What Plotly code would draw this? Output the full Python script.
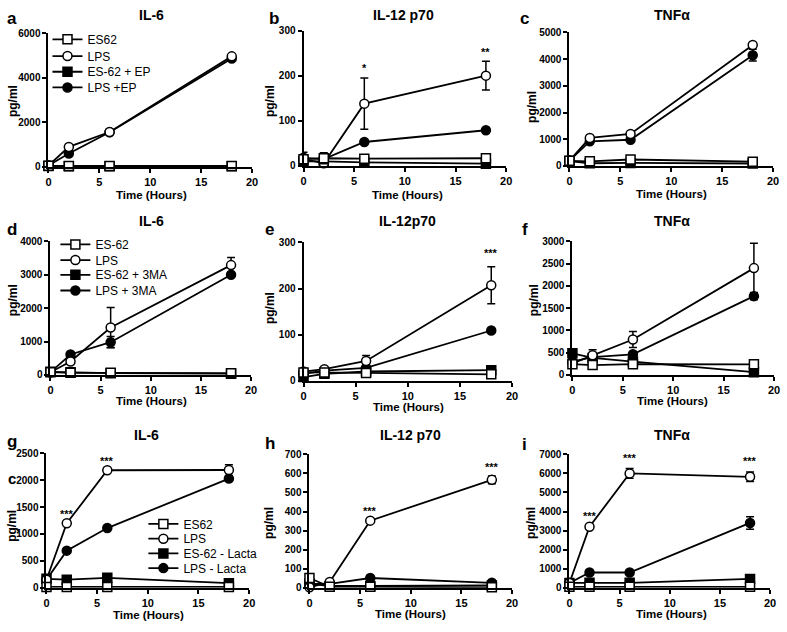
import plotly.graph_objects as go

W, H = 787, 632
FONT = "Liberation Sans, Arial, Helvetica, sans-serif"

hours = [0, 2, 6, 18]
x_ticks = [0, 5, 10, 15, 20]

# ---------- row 1 (EP) ----------
names_row1 = ["ES62", "LPS", "ES-62 + EP", "LPS +EP"]
# panel a  IL-6
a_es62 = [50, 40, 40, 40]
a_lps = [60, 900, 1570, 4970]
a_es62x = [40, 30, 30, 30]
a_lpsx = [60, 600, 1560, 4870]
a_lps_err = [0, 0, 0, 0]
a_lpsx_err = [0, 0, 0, 0]
# panel b  IL-12 p70
b_es62 = [15, 17, 16, 17]
b_es62_err = [0, 12, 0, 0]
b_lps = [15, 6, 138, 200]
b_lps_err = [0, 0, 57, 32]
b_es62x = [10, 10, 8, 5]
b_lpsx = [18, 15, 53, 79]
b_lpsx_err = [12, 0, 0, 0]
b_stars = ["", "", "*", "**"]
# panel c  TNFa
c_es62 = [190, 170, 240, 160]
c_lps = [200, 1050, 1200, 4530]
c_es62x = [180, 100, 110, 90]
c_lpsx = [200, 920, 980, 4150]
c_lpsx_err = [0, 0, 0, 220]

# ---------- row 2 (3MA) ----------
names_row2 = ["ES-62", "LPS", "ES-62 + 3MA", "LPS + 3MA"]
d_es62 = [80, 60, 60, 50]
d_lps = [80, 400, 1420, 3290]
d_lps_err = [0, 0, 600, 230]
d_es62x = [90, 80, 50, 30]
d_lpsx = [80, 610, 980, 3000]
d_lpsx_err = [0, 0, 170, 0]

e_es62 = [18, 18, 17, 14]
e_lps = [20, 25, 43, 207]
e_lps_err = [0, 0, 12, 40]
e_es62x = [8, 15, 20, 23]
e_lpsx = [15, 22, 28, 109]
e_stars = ["", "", "", "***"]

f_es62 = [240, 220, 240, 236]
f_lps = [260, 441, 794, 2400]
f_lps_err = [0, 125, 180, 560]
f_es62x = [485, 380, 300, 60]
f_lpsx = [300, 397, 463, 1770]
f_lpsx_err = [0, 0, 0, 80]

# ---------- row 3 (Lacta) ----------
names_row3 = ["ES62", "LPS", "ES-62 - Lacta", "LPS - Lacta"]
g_es62 = [15, 15, 15, 15]
g_lps = [150, 1200, 2185, 2190]
g_lps_err = [0, 0, 0, 100]
g_es62x = [165, 150, 185, 85]
g_lpsx = [150, 690, 1110, 2030]
g_lpsx_err = [0, 0, 0, 50]
g_stars = ["", "***", "***", ""]

h_es62 = [51, 5, 5, 2]
h_lps = [2, 30, 352, 566]
h_lps_err = [0, 0, 0, 20]
h_es62x = [22, 9, 9, 12]
h_lpsx = [20, 20, 51, 26]
h_stars = ["", "", "***", "***"]

i_es62 = [50, 50, 50, 50]
i_lps = [250, 3200, 6000, 5820]
i_lps_err = [0, 0, 250, 250]
i_es62x = [250, 260, 260, 460]
i_lpsx = [250, 800, 800, 3400]
i_lpsx_err = [0, 0, 0, 330]
i_stars = ["", "***", "***", "***"]

titles = ["IL-6", "IL-12 p70", "TNFα", "IL-6", "IL-12p70", "TNFα", "IL-6", "IL-12 p70", "TNFα"]
letters = ["a", "b", "c", "d", "e", "f", "g", "h", "i"]
y_max = [6000, 300, 5000, 4000, 300, 3000, 2500, 700, 7000]
y_dtick = [2000, 100, 1000, 1000, 100, 500, 500, 100, 1000]

zeros = [0, 0, 0, 0]
panels = [
    dict(names=names_row1, es62=a_es62, lps=a_lps, es62x=a_es62x, lpsx=a_lpsx,
         es62_err=zeros, lps_err=a_lps_err, lpsx_err=a_lpsx_err, stars=None, legend=0),
    dict(names=names_row1, es62=b_es62, lps=b_lps, es62x=b_es62x, lpsx=b_lpsx,
         es62_err=b_es62_err, lps_err=b_lps_err, lpsx_err=b_lpsx_err, stars=b_stars, legend=None),
    dict(names=names_row1, es62=c_es62, lps=c_lps, es62x=c_es62x, lpsx=c_lpsx,
         es62_err=zeros, lps_err=zeros, lpsx_err=c_lpsx_err, stars=None, legend=None),
    dict(names=names_row2, es62=d_es62, lps=d_lps, es62x=d_es62x, lpsx=d_lpsx,
         es62_err=zeros, lps_err=d_lps_err, lpsx_err=d_lpsx_err, stars=None, legend=1),
    dict(names=names_row2, es62=e_es62, lps=e_lps, es62x=e_es62x, lpsx=e_lpsx,
         es62_err=zeros, lps_err=e_lps_err, lpsx_err=zeros, stars=e_stars, legend=None),
    dict(names=names_row2, es62=f_es62, lps=f_lps, es62x=f_es62x, lpsx=f_lpsx,
         es62_err=zeros, lps_err=f_lps_err, lpsx_err=f_lpsx_err, stars=None, legend=None),
    dict(names=names_row3, es62=g_es62, lps=g_lps, es62x=g_es62x, lpsx=g_lpsx,
         es62_err=zeros, lps_err=g_lps_err, lpsx_err=g_lpsx_err, stars=g_stars, legend=2),
    dict(names=names_row3, es62=h_es62, lps=h_lps, es62x=h_es62x, lpsx=h_lpsx,
         es62_err=zeros, lps_err=h_lps_err, lpsx_err=zeros, stars=h_stars, legend=None),
    dict(names=names_row3, es62=i_es62, lps=i_lps, es62x=i_es62x, lpsx=i_lpsx,
         es62_err=zeros, lps_err=i_lps_err, lpsx_err=i_lpsx_err, stars=i_stars, legend=None),
]

# pixel boxes of plot areas: (x of 0h, x of 20h, y of ymax, y of 0)
boxes = [
    (46, 252, 28, 164), (304, 509, 25, 163), (573, 779, 27, 163),
    (48, 251, 240, 376), (304, 515, 241, 382), (576, 780, 240, 376),
    (44, 249, 456, 593), (310, 515, 457, 593), (573, 776, 457, 593),
]
# text positions (pixels)
title_pos = [(150, 9), (405, 9), (677, 9), (150, 219), (409, 219), (677, 219), (145, 437), (412, 437), (677, 437)]
letter_pos = [(9, 13), (274, 13), (528, 13), (9, 228), (270, 228), (528, 228), (9, 444), (270, 446), (528, 447)]
xtitle_pos = [(150, 193), (409, 193), (676, 192), (150, 403), (410, 409), (677, 403), (147, 621), (412, 620), (676, 620)]
ytitle_pos = [(10, 97), (270, 97), (535, 103), (10, 300), (270, 308), (537, 300), (9, 530), (269, 527), (534, 527)]
star_pad = [0.07, 0.07, 0.07, 0.07, 0.1, 0.07, 0.07, 0.07, 0.08]
# legend block: (left x, centre y of each of the 4 rows)
legend_blocks = [(45, [34, 51, 67, 83]), (53, [243, 259, 274, 290]), (142, [528, 543, 558, 573])]

fig = go.Figure()
layout = dict(width=W, height=H, margin=dict(l=0, r=0, t=0, b=0),
              plot_bgcolor="white", paper_bgcolor="white",
              font=dict(family=FONT, color="black"), annotations=[])

styles = [  # draw order: filled square, filled circle, open circle, open square
    ("es62x", None, "square", "black", 2),
    ("lpsx", "lpsx_err", "circle", "black", 3),
    ("lps", "lps_err", "circle", "white", 1),
    ("es62", "es62_err", "square", "white", 0),
]

for k, p in enumerate(panels):
    n = "" if k == 0 else str(k + 1)
    xa, ya = "x" + n, "y" + n
    x0, x20, ytop, ybot = boxes[k]
    for key, ekey, sym, fill, nidx in styles:
        err = p[ekey] if ekey else zeros
        tr = dict(
            x=hours, y=p[key], mode="lines+markers", name=p["names"][nidx],
            xaxis=xa, yaxis=ya, cliponaxis=False,
            line=dict(color="black", width=1.8),
            marker=dict(symbol=sym, size=9, color=fill, line=dict(color="black", width=1.5)),
            error_y=dict(type="data", array=err, visible=True, color="black", thickness=1.5, width=4),
            showlegend=p["legend"] is not None,
        )
        if p["legend"] is not None:
            lid = p["legend"] * 4 + nidx + 1
            lname = "legend" if lid == 1 else "legend%d" % lid
            tr["legend"] = lname
            lx, rows = legend_blocks[p["legend"]]
            layout[lname] = dict(x=lx / W, y=1 - rows[nidx] / H, xanchor="left", yanchor="middle",
                                 xref="paper", yref="paper", bgcolor="rgba(0,0,0,0)",
                                 font=dict(size=12, family=FONT, color="black"), itemwidth=30)
        fig.add_trace(go.Scatter(**tr))

    axis_common = dict(showline=True, linecolor="black", linewidth=2, ticks="outside",
                       ticklen=4, tickwidth=2, tickcolor="black", showgrid=False, zeroline=False,
                       fixedrange=True)
    layout["xaxis" + n] = dict(axis_common, domain=[x0 / W, x20 / W], range=[0, 20],
                               tickvals=x_ticks, anchor=ya,
                               tickfont=dict(size=11, family=FONT, weight="bold", color="black"))
    layout["yaxis" + n] = dict(axis_common, domain=[1 - ybot / H, 1 - ytop / H], range=[0, y_max[k]],
                               dtick=y_dtick[k], tick0=0, anchor=xa,
                               tickfont=dict(size=10, family=FONT, weight="bold", color="black"))

    if p["stars"]:
        for j, s in enumerate(p["stars"]):
            if s:
                top = max(p["lps"][j] + p["lps_err"][j], p["lpsx"][j] + p["lpsx_err"][j])
                layout["annotations"].append(dict(
                    x=hours[j], y=top + star_pad[k] * y_max[k], xref=xa, yref=ya, text=s, showarrow=False,
                    xanchor="center", yanchor="middle", font=dict(size=11, family=FONT, weight="bold")))

    def ann(pos, text, size, bold=True, angle=0):
        layout["annotations"].append(dict(
            x=pos[0] / W, y=1 - pos[1] / H, xref="paper", yref="paper", text=text,
            showarrow=False, textangle=angle, xanchor="center", yanchor="middle",
            font=dict(size=size, family=FONT, weight="bold" if bold else "normal", color="black")))

    ann(title_pos[k], titles[k], 14)
    ann(letter_pos[k], letters[k], 17)
    ann(xtitle_pos[k], "Time (Hours)", 11.5)
    ann(ytitle_pos[k], "pg/ml", 12, angle=-90)

# stray glyph present in the reference panel g (sits just left of the "2000" tick label)
layout["annotations"].append(dict(x=9 / W, y=1 - 482 / H, xref="paper", yref="paper", text="c",
                                  showarrow=False, xanchor="center", yanchor="middle",
                                  font=dict(size=15, family=FONT, weight="bold", color="black")))

fig.update_layout(**layout)
fig.write_html("out.html", config={"displayModeBar": False},
               post_script="document.body.style.margin='0px';document.body.style.overflow='hidden';")
